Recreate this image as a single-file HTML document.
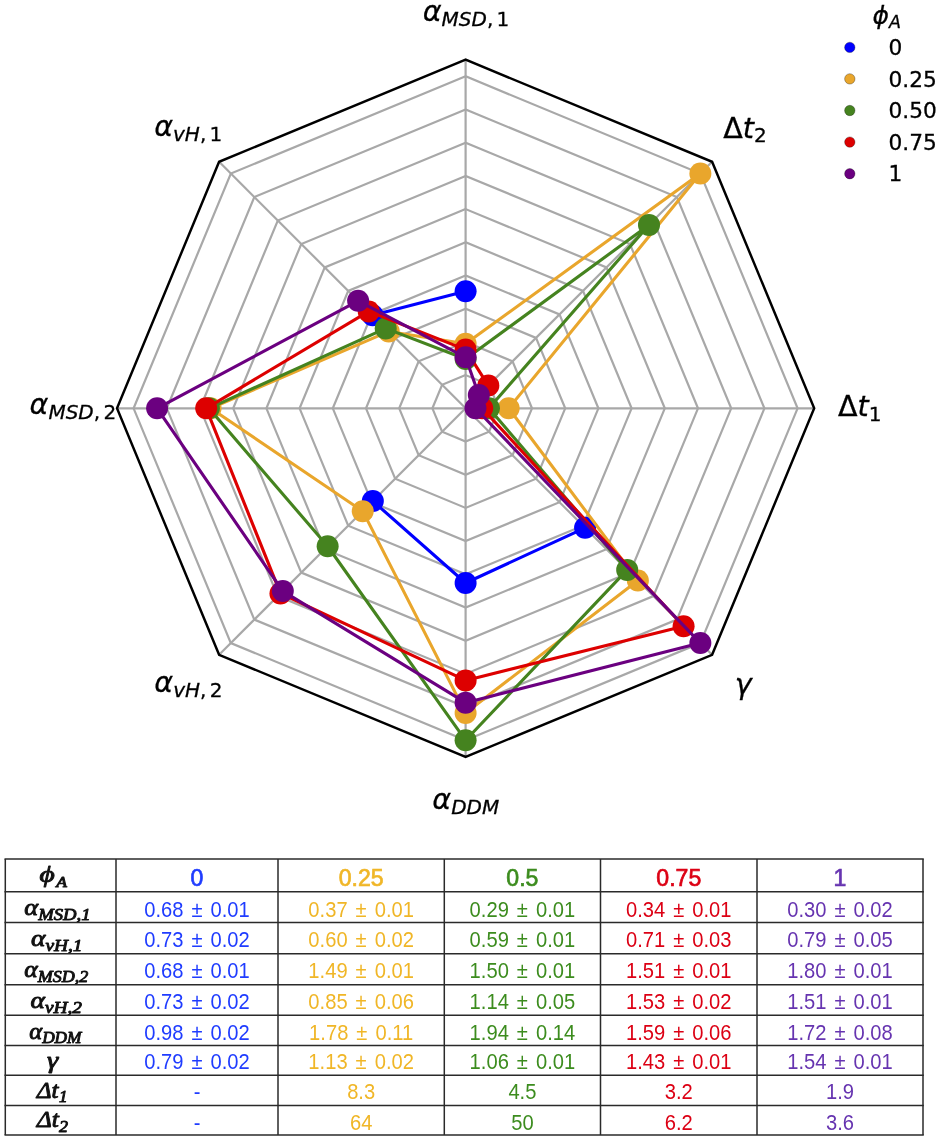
<!DOCTYPE html>
<html lang="en"><head><meta charset="utf-8"><title>Radar chart</title>
<style>
html,body{margin:0;padding:0;background:#fff;}
body{width:940px;height:1140px;position:relative;overflow:hidden;}
.chart{position:absolute;left:0;top:0;}
.tbl{position:absolute;left:0;top:0;}
</style></head><body>
<svg class="chart" width="940" height="850" viewBox="0 0 940 850">
<g fill="none" stroke="#a8a8a8" stroke-width="2.2" stroke-linejoin="miter">
<polygon points="465.60,375.10 442.12,384.82 432.40,408.30 442.12,431.78 465.60,441.50 489.08,431.78 498.80,408.30 489.08,384.82"/>
<polygon points="465.60,341.90 418.65,361.35 399.20,408.30 418.65,455.25 465.60,474.70 512.55,455.25 532.00,408.30 512.55,361.35"/>
<polygon points="465.60,308.70 395.17,337.87 366.00,408.30 395.17,478.73 465.60,507.90 536.03,478.73 565.20,408.30 536.03,337.87"/>
<polygon points="465.60,275.50 371.70,314.40 332.80,408.30 371.70,502.20 465.60,541.10 559.50,502.20 598.40,408.30 559.50,314.40"/>
<polygon points="465.60,242.30 348.22,290.92 299.60,408.30 348.22,525.68 465.60,574.30 582.98,525.68 631.60,408.30 582.98,290.92"/>
<polygon points="465.60,209.10 324.74,267.44 266.40,408.30 324.74,549.16 465.60,607.50 606.46,549.16 664.80,408.30 606.46,267.44"/>
<polygon points="465.60,175.90 301.27,243.97 233.20,408.30 301.27,572.63 465.60,640.70 629.93,572.63 698.00,408.30 629.93,243.97"/>
<polygon points="465.60,142.70 277.79,220.49 200.00,408.30 277.79,596.11 465.60,673.90 653.41,596.11 731.20,408.30 653.41,220.49"/>
<polygon points="465.60,109.50 254.32,197.02 166.80,408.30 254.32,619.58 465.60,707.10 676.88,619.58 764.40,408.30 676.88,197.02"/>
<polygon points="465.60,76.30 230.84,173.54 133.60,408.30 230.84,643.06 465.60,740.30 700.36,643.06 797.60,408.30 700.36,173.54"/>
<line x1="465.60" y1="408.30" x2="465.60" y2="59.70"/>
<line x1="465.60" y1="408.30" x2="219.10" y2="161.80"/>
<line x1="465.60" y1="408.30" x2="117.00" y2="408.30"/>
<line x1="465.60" y1="408.30" x2="219.10" y2="654.80"/>
<line x1="465.60" y1="408.30" x2="465.60" y2="756.90"/>
<line x1="465.60" y1="408.30" x2="712.10" y2="654.80"/>
<line x1="465.60" y1="408.30" x2="814.20" y2="408.30"/>
<line x1="465.60" y1="408.30" x2="712.10" y2="161.80"/>
</g>
<g stroke="#0000ff" fill="none" stroke-width="3.1" stroke-linejoin="round" stroke-linecap="butt">
<polyline points="465.60,291.30 372.62,315.32"/>
<polyline points="372.83,501.07 465.60,583.00 585.10,527.80"/>
</g>
<g fill="#0000ff">
<circle cx="465.60" cy="291.30" r="11.0"/>
<circle cx="372.62" cy="315.32" r="11.0"/>
<circle cx="372.83" cy="501.07" r="11.0"/>
<circle cx="465.60" cy="583.00" r="11.0"/>
<circle cx="585.10" cy="527.80" r="11.0"/>
</g>
<g stroke="#e9a62c" fill="none" stroke-width="3.1" stroke-linejoin="round" stroke-linecap="butt">
<polyline points="465.60,343.80 388.75,331.45 210.61,408.30 362.74,511.16 465.60,712.92 637.86,580.56 508.66,408.30 700.36,173.54 465.60,343.80"/>
</g>
<g fill="#e9a62c">
<circle cx="465.60" cy="343.80" r="11.0"/>
<circle cx="388.75" cy="331.45" r="11.0"/>
<circle cx="210.61" cy="408.30" r="11.0"/>
<circle cx="362.74" cy="511.16" r="11.0"/>
<circle cx="465.60" cy="712.92" r="11.0"/>
<circle cx="637.86" cy="580.56" r="11.0"/>
<circle cx="508.66" cy="408.30" r="11.0"/>
<circle cx="700.36" cy="173.54" r="11.0"/>
</g>
<g stroke="#45831f" fill="none" stroke-width="3.1" stroke-linejoin="round" stroke-linecap="butt">
<polyline points="465.60,359.00 385.72,328.42 208.90,408.30 327.65,546.25 465.60,740.30 627.19,569.89 488.94,408.30 649.01,224.89 465.60,359.00"/>
</g>
<g fill="#45831f">
<circle cx="465.60" cy="359.00" r="11.0"/>
<circle cx="385.72" cy="328.42" r="11.0"/>
<circle cx="208.90" cy="408.30" r="11.0"/>
<circle cx="327.65" cy="546.25" r="11.0"/>
<circle cx="465.60" cy="740.30" r="11.0"/>
<circle cx="627.19" cy="569.89" r="11.0"/>
<circle cx="488.94" cy="408.30" r="11.0"/>
<circle cx="649.01" cy="224.89" r="11.0"/>
</g>
<g stroke="#dd0000" fill="none" stroke-width="3.1" stroke-linejoin="round" stroke-linecap="butt">
<polyline points="465.60,349.60 368.73,311.43 206.19,408.30 280.45,593.45 465.60,680.40 683.59,626.29 482.20,408.30 488.34,385.56 465.60,349.60"/>
</g>
<g fill="#dd0000">
<circle cx="465.60" cy="349.60" r="11.0"/>
<circle cx="368.73" cy="311.43" r="11.0"/>
<circle cx="206.19" cy="408.30" r="11.0"/>
<circle cx="280.45" cy="593.45" r="11.0"/>
<circle cx="465.60" cy="680.40" r="11.0"/>
<circle cx="683.59" cy="626.29" r="11.0"/>
<circle cx="482.20" cy="408.30" r="11.0"/>
<circle cx="488.34" cy="385.56" r="11.0"/>
</g>
<g stroke="#6b0080" fill="none" stroke-width="3.1" stroke-linejoin="round" stroke-linecap="butt">
<polyline points="465.60,357.30 358.12,300.82 157.10,408.30 282.81,591.09 465.60,702.65 700.36,643.06 475.46,408.30 478.81,395.09 465.60,357.30"/>
</g>
<g fill="#6b0080">
<circle cx="465.60" cy="357.30" r="11.0"/>
<circle cx="358.12" cy="300.82" r="11.0"/>
<circle cx="157.10" cy="408.30" r="11.0"/>
<circle cx="282.81" cy="591.09" r="11.0"/>
<circle cx="465.60" cy="702.65" r="11.0"/>
<circle cx="700.36" cy="643.06" r="11.0"/>
<circle cx="475.46" cy="408.30" r="11.0"/>
<circle cx="478.81" cy="395.09" r="11.0"/>
</g>
<polygon points="465.60,59.70 219.10,161.80 117.00,408.30 219.10,654.80 465.60,756.90 712.10,654.80 814.20,408.30 712.10,161.80" fill="none" stroke="#000" stroke-width="2.45" stroke-linejoin="miter"/>
<g font-family="'DejaVu Sans', 'Liberation Sans', sans-serif" fill="#000" stroke="#000" stroke-width="0.3">
<text id="l1" x="422.70" y="20.90" font-size="28.6"><tspan font-style="italic">α</tspan><tspan font-size="20.0" font-style="italic" dx="0" dy="4.7">MSD</tspan><tspan font-size="20.0" font-style="normal" dx="0">,</tspan><tspan font-size="20.0" font-style="normal" dx="3.3">1</tspan></text>
<text id="l2" x="154.15" y="136.20" font-size="28.6"><tspan font-style="italic">α</tspan><tspan font-size="20.0" font-style="italic" dx="0" dy="4.7">vH</tspan><tspan font-size="20.0" font-style="normal" dx="0">,</tspan><tspan font-size="20.0" font-style="normal" dx="3.3">1</tspan></text>
<text id="l3" x="29.55" y="414.30" font-size="28.6"><tspan font-style="italic">α</tspan><tspan font-size="20.0" font-style="italic" dx="0" dy="4.7">MSD</tspan><tspan font-size="20.0" font-style="normal" dx="0">,</tspan><tspan font-size="20.0" font-style="normal" dx="3.3">2</tspan></text>
<text id="l4" x="154.30" y="692.20" font-size="28.6"><tspan font-style="italic">α</tspan><tspan font-size="20.0" font-style="italic" dx="0" dy="4.7">vH</tspan><tspan font-size="20.0" font-style="normal" dx="0">,</tspan><tspan font-size="20.0" font-style="normal" dx="3.3">2</tspan></text>
<text id="l5" x="432.35" y="808.80" font-size="28.6"><tspan font-style="italic">α</tspan><tspan font-size="20.0" font-style="italic" dx="0" dy="4.7">DDM</tspan></text>
<text id="l6" x="734.70" y="693.50" font-size="28.6"><tspan font-style="italic">γ</tspan></text>
<text id="l7" x="838.05" y="416.05" font-size="28.6">Δ<tspan font-style="italic">t</tspan><tspan font-size="20.0" dy="4.7">1</tspan></text>
<text id="l8" x="723.20" y="137.63" font-size="28.6">Δ<tspan font-style="italic">t</tspan><tspan font-size="20.0" dy="4.7">2</tspan></text>
<text id="lt" x="872.55" y="23.95" font-size="25"><tspan font-style="italic">ϕ</tspan><tspan font-size="17.5" font-style="italic" dy="3.8">A</tspan></text>
<circle cx="849.8" cy="47.4" r="5.2" fill="#0000ff"/>
<text x="888.5" y="55.0" font-size="21.7">0</text>
<circle cx="849.8" cy="78.9" r="5.2" fill="#e9a62c"/>
<text x="888.5" y="86.5" font-size="21.7">0.25</text>
<circle cx="849.8" cy="110.5" r="5.2" fill="#45831f"/>
<text x="888.5" y="118.1" font-size="21.7">0.50</text>
<circle cx="849.8" cy="142.1" r="5.2" fill="#dd0000"/>
<text x="888.5" y="149.7" font-size="21.7">0.75</text>
<circle cx="849.8" cy="173.7" r="5.2" fill="#6b0080"/>
<text x="888.5" y="181.3" font-size="21.7">1</text>
</g>
</svg>
<svg class="tbl" width="940" height="1140" viewBox="0 0 940 1140">
<g font-family="'Liberation Sans', sans-serif" text-anchor="middle">
<text transform="translate(197.00 886.30) scale(0.95 1)" font-size="24.3" fill="#1f3cff" stroke="#1f3cff" stroke-width="0.7">0</text>
<text transform="translate(361.15 886.30) scale(0.95 1)" font-size="24.3" fill="#f0b627" stroke="#f0b627" stroke-width="0.7">0.25</text>
<text transform="translate(522.40 886.30) scale(0.95 1)" font-size="24.3" fill="#3c8c1e" stroke="#3c8c1e" stroke-width="0.7">0.5</text>
<text transform="translate(678.75 886.30) scale(0.95 1)" font-size="24.3" fill="#dc0014" stroke="#dc0014" stroke-width="0.7">0.75</text>
<text transform="translate(840.00 886.30) scale(0.95 1)" font-size="24.3" fill="#6634b0" stroke="#6634b0" stroke-width="0.7">1</text>
<text transform="translate(197.00 916.60) scale(0.885 1)" font-size="22.8" word-spacing="2.7" fill="#1f3cff">0.68 ± 0.01</text>
<text transform="translate(361.15 916.60) scale(0.885 1)" font-size="22.8" word-spacing="2.7" fill="#f0b627">0.37 ± 0.01</text>
<text transform="translate(522.40 916.60) scale(0.885 1)" font-size="22.8" word-spacing="2.7" fill="#3c8c1e">0.29 ± 0.01</text>
<text transform="translate(678.75 916.60) scale(0.885 1)" font-size="22.8" word-spacing="2.7" fill="#dc0014">0.34 ± 0.01</text>
<text transform="translate(840.00 916.60) scale(0.885 1)" font-size="22.8" word-spacing="2.7" fill="#6634b0">0.30 ± 0.02</text>
<text transform="translate(197.00 947.30) scale(0.885 1)" font-size="22.8" word-spacing="2.7" fill="#1f3cff">0.73 ± 0.02</text>
<text transform="translate(361.15 947.30) scale(0.885 1)" font-size="22.8" word-spacing="2.7" fill="#f0b627">0.60 ± 0.02</text>
<text transform="translate(522.40 947.30) scale(0.885 1)" font-size="22.8" word-spacing="2.7" fill="#3c8c1e">0.59 ± 0.01</text>
<text transform="translate(678.75 947.30) scale(0.885 1)" font-size="22.8" word-spacing="2.7" fill="#dc0014">0.71 ± 0.03</text>
<text transform="translate(840.00 947.30) scale(0.885 1)" font-size="22.8" word-spacing="2.7" fill="#6634b0">0.79 ± 0.05</text>
<text transform="translate(197.00 978.30) scale(0.885 1)" font-size="22.8" word-spacing="2.7" fill="#1f3cff">0.68 ± 0.01</text>
<text transform="translate(361.15 978.30) scale(0.885 1)" font-size="22.8" word-spacing="2.7" fill="#f0b627">1.49 ± 0.01</text>
<text transform="translate(522.40 978.30) scale(0.885 1)" font-size="22.8" word-spacing="2.7" fill="#3c8c1e">1.50 ± 0.01</text>
<text transform="translate(678.75 978.30) scale(0.885 1)" font-size="22.8" word-spacing="2.7" fill="#dc0014">1.51 ± 0.01</text>
<text transform="translate(840.00 978.30) scale(0.885 1)" font-size="22.8" word-spacing="2.7" fill="#6634b0">1.80 ± 0.01</text>
<text transform="translate(197.00 1008.90) scale(0.885 1)" font-size="22.8" word-spacing="2.7" fill="#1f3cff">0.73 ± 0.02</text>
<text transform="translate(361.15 1008.90) scale(0.885 1)" font-size="22.8" word-spacing="2.7" fill="#f0b627">0.85 ± 0.06</text>
<text transform="translate(522.40 1008.90) scale(0.885 1)" font-size="22.8" word-spacing="2.7" fill="#3c8c1e">1.14 ± 0.05</text>
<text transform="translate(678.75 1008.90) scale(0.885 1)" font-size="22.8" word-spacing="2.7" fill="#dc0014">1.53 ± 0.02</text>
<text transform="translate(840.00 1008.90) scale(0.885 1)" font-size="22.8" word-spacing="2.7" fill="#6634b0">1.51 ± 0.01</text>
<text transform="translate(197.00 1039.80) scale(0.885 1)" font-size="22.8" word-spacing="2.7" fill="#1f3cff">0.98 ± 0.02</text>
<text transform="translate(361.15 1039.80) scale(0.885 1)" font-size="22.8" word-spacing="2.7" fill="#f0b627">1.78 ± 0.11</text>
<text transform="translate(522.40 1039.80) scale(0.885 1)" font-size="22.8" word-spacing="2.7" fill="#3c8c1e">1.94 ± 0.14</text>
<text transform="translate(678.75 1039.80) scale(0.885 1)" font-size="22.8" word-spacing="2.7" fill="#dc0014">1.59 ± 0.06</text>
<text transform="translate(840.00 1039.80) scale(0.885 1)" font-size="22.8" word-spacing="2.7" fill="#6634b0">1.72 ± 0.08</text>
<text transform="translate(197.00 1069.40) scale(0.885 1)" font-size="22.8" word-spacing="2.7" fill="#1f3cff">0.79 ± 0.02</text>
<text transform="translate(361.15 1069.40) scale(0.885 1)" font-size="22.8" word-spacing="2.7" fill="#f0b627">1.13 ± 0.02</text>
<text transform="translate(522.40 1069.40) scale(0.885 1)" font-size="22.8" word-spacing="2.7" fill="#3c8c1e">1.06 ± 0.01</text>
<text transform="translate(678.75 1069.40) scale(0.885 1)" font-size="22.8" word-spacing="2.7" fill="#dc0014">1.43 ± 0.01</text>
<text transform="translate(840.00 1069.40) scale(0.885 1)" font-size="22.8" word-spacing="2.7" fill="#6634b0">1.54 ± 0.01</text>
<text transform="translate(197.00 1099.10) scale(0.885 1)" font-size="22.8" word-spacing="2.7" fill="#1f3cff">-</text>
<text transform="translate(361.15 1099.10) scale(0.885 1)" font-size="22.8" word-spacing="2.7" fill="#f0b627">8.3</text>
<text transform="translate(522.40 1099.10) scale(0.885 1)" font-size="22.8" word-spacing="2.7" fill="#3c8c1e">4.5</text>
<text transform="translate(678.75 1099.10) scale(0.885 1)" font-size="22.8" word-spacing="2.7" fill="#dc0014">3.2</text>
<text transform="translate(840.00 1099.10) scale(0.885 1)" font-size="22.8" word-spacing="2.7" fill="#6634b0">1.9</text>
<text transform="translate(197.00 1129.80) scale(0.885 1)" font-size="22.8" word-spacing="2.7" fill="#1f3cff">-</text>
<text transform="translate(361.15 1129.80) scale(0.885 1)" font-size="22.8" word-spacing="2.7" fill="#f0b627">64</text>
<text transform="translate(522.40 1129.80) scale(0.885 1)" font-size="22.8" word-spacing="2.7" fill="#3c8c1e">50</text>
<text transform="translate(678.75 1129.80) scale(0.885 1)" font-size="22.8" word-spacing="2.7" fill="#dc0014">6.2</text>
<text transform="translate(840.00 1129.80) scale(0.885 1)" font-size="22.8" word-spacing="2.7" fill="#6634b0">3.6</text>
</g>
<g font-family="'Liberation Serif', 'DejaVu Serif', serif" font-style="italic" fill="#111" stroke="#111" stroke-width="0.9" stroke-linejoin="round">
<text id="t1" transform="translate(39.60 882.20) scale(1.255 1)" font-size="23.5">ϕ<tspan font-size="14" dy="4.6" dx="1.2">A</tspan></text>
<text id="t2" transform="translate(24.30 915.00) scale(1.13 1)" font-size="23.5">α<tspan font-size="16.5" dy="4.6" dx="0">MSD,1</tspan></text>
<text id="t3" transform="translate(31.00 946.00) scale(1.171 1)" font-size="23.5">α<tspan font-size="16.5" dy="4.6" dx="0">vH,1</tspan></text>
<text id="t4" transform="translate(24.30 977.00) scale(1.091 1)" font-size="23.5">α<tspan font-size="16.5" dy="4.6" dx="0">MSD,2</tspan></text>
<text id="t5" transform="translate(30.60 1008.00) scale(1.17 1)" font-size="23.5">α<tspan font-size="16.5" dy="4.6" dx="0">vH,2</tspan></text>
<text id="t6" transform="translate(29.20 1038.50) scale(1.048 1)" font-size="23.5">α<tspan font-size="16.5" dy="4.6" dx="0">DDM</tspan></text>
<text id="t7" transform="translate(47.00 1067.50) scale(1.21 1)" font-size="23.5">γ</text>
<text id="t8" transform="translate(36.80 1097.60) scale(1.075 1)" font-size="23.5">Δt<tspan font-size="16.5" dy="4.6" dx="0">1</tspan></text>
<text id="t9" transform="translate(36.80 1127.40) scale(1.093 1)" font-size="23.5">Δt<tspan font-size="16.5" dy="4.6" dx="0">2</tspan></text>
</g>
<g stroke="#2a2a2a" stroke-width="1.5" fill="none">
<line x1="4.5" y1="858.9" x2="923.8" y2="858.9"/>
<line x1="4.5" y1="891.7" x2="923.8" y2="891.7"/>
<line x1="4.5" y1="922.5" x2="923.8" y2="922.5"/>
<line x1="4.5" y1="953.8" x2="923.8" y2="953.8"/>
<line x1="4.5" y1="984.7" x2="923.8" y2="984.7"/>
<line x1="4.5" y1="1015.3" x2="923.8" y2="1015.3"/>
<line x1="4.5" y1="1045.4" x2="923.8" y2="1045.4"/>
<line x1="4.5" y1="1075.2" x2="923.8" y2="1075.2"/>
<line x1="4.5" y1="1105.5" x2="923.8" y2="1105.5"/>
<line x1="4.5" y1="1134.9" x2="923.8" y2="1134.9"/>
<line x1="5.3" y1="858.9" x2="5.3" y2="1134.9"/>
<line x1="116.0" y1="858.9" x2="116.0" y2="1134.9"/>
<line x1="278.0" y1="858.9" x2="278.0" y2="1134.9"/>
<line x1="444.3" y1="858.9" x2="444.3" y2="1134.9"/>
<line x1="600.5" y1="858.9" x2="600.5" y2="1134.9"/>
<line x1="757.0" y1="858.9" x2="757.0" y2="1134.9"/>
<line x1="923.0" y1="858.9" x2="923.0" y2="1134.9"/>
</g>
</svg>
</body></html>
